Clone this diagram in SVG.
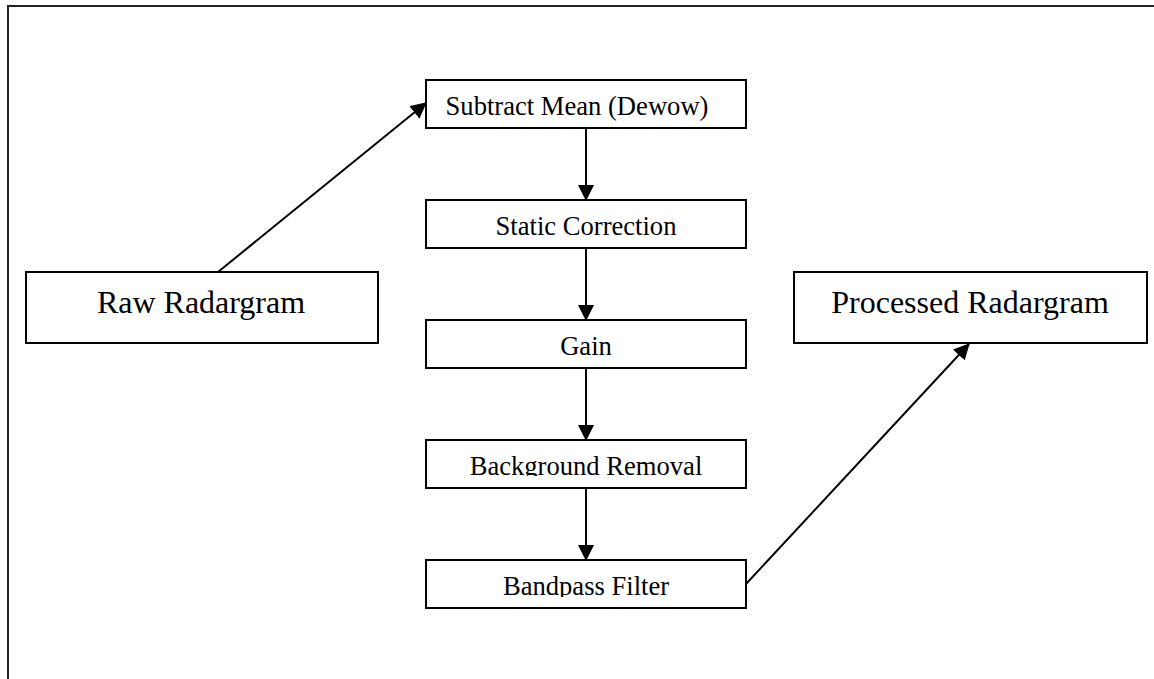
<svg xmlns="http://www.w3.org/2000/svg" width="1154" height="679" viewBox="0 0 1154 679">
<style>
.box{fill:#fff;stroke:#000;stroke-width:2}
.t{font-family:"Liberation Serif","Times New Roman",serif;fill:#000;text-anchor:middle}
.s{font-size:26.6px}
.b{font-size:32px}
.c{stroke:#000;stroke-width:2;fill:none}
</style>
<defs>
<marker id="ah" markerUnits="userSpaceOnUse" markerWidth="16" markerHeight="16" viewBox="0 0 16 16" refX="15" refY="8" orient="auto">
<path d="M0,0 L16,8 L0,16 Z" fill="#000"/>
</marker>
<clipPath id="clipBg"><rect x="426" y="440" width="320" height="36"/></clipPath>
<clipPath id="clipBp"><rect x="426" y="560" width="320" height="37"/></clipPath>
</defs>
<rect width="1154" height="679" fill="#fff"/>
<path d="M8,679 V6 H1154" fill="none" stroke="#222" stroke-width="2"/>
<g id="connectors">
<line class="c" x1="218" y1="272" x2="426" y2="103" marker-end="url(#ah)"/>
<line class="c" x1="586" y1="128" x2="586" y2="200" marker-end="url(#ah)"/>
<line class="c" x1="586" y1="248" x2="586" y2="320" marker-end="url(#ah)"/>
<line class="c" x1="586" y1="368" x2="586" y2="440" marker-end="url(#ah)"/>
<line class="c" x1="586" y1="488" x2="586" y2="560" marker-end="url(#ah)"/>
<line class="c" x1="746" y1="584" x2="969" y2="344" marker-end="url(#ah)"/>
</g>
<g id="raw">
<rect class="box" x="26" y="272" width="352" height="71"/>
<text class="t b" x="201" y="313">Raw Radargram</text>
</g>
<g id="dewow">
<rect class="box" x="426" y="80" width="320" height="48"/>
<text class="t s" x="577" y="115">Subtract Mean (Dewow)</text>
</g>
<g id="static">
<rect class="box" x="426" y="200" width="320" height="48"/>
<text class="t s" x="586" y="235">Static Correction</text>
</g>
<g id="gain">
<rect class="box" x="426" y="320" width="320" height="48"/>
<text class="t s" x="586" y="355">Gain</text>
</g>
<g id="background">
<rect class="box" x="426" y="440" width="320" height="48"/>
<text class="t s" x="586" y="475" clip-path="url(#clipBg)">Background Removal</text>
</g>
<g id="bandpass">
<rect class="box" x="426" y="560" width="320" height="48"/>
<text class="t s" x="586" y="595" clip-path="url(#clipBp)">Bandpass Filter</text>
</g>
<g id="processed">
<rect class="box" x="794" y="272" width="353" height="71"/>
<text class="t b" x="970" y="313">Processed Radargram</text>
</g>
</svg>
